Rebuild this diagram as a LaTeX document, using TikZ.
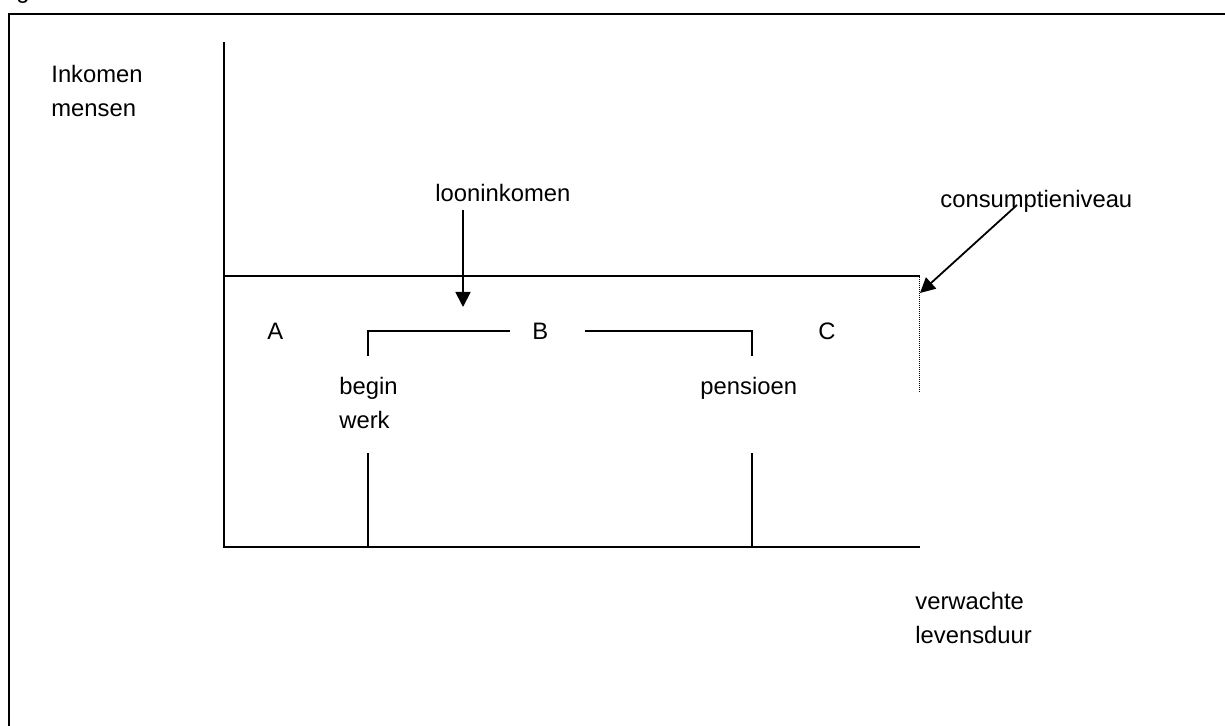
\documentclass[tikz,border=0pt]{standalone}
\usepackage{fontspec}
\setmainfont{Liberation Sans}
\usetikzlibrary{arrows.meta}
\begin{document}
\begin{tikzpicture}[x=0.5pt,y=-0.5pt,
  lbl/.style={inner sep=0pt,anchor=base west,align=left,font=\fontsize{11.9}{17}\selectfont},
  axis/.style={line width=0.75pt},
  frameline/.style={line width=1.2pt},
  arr/.style={line width=0.9pt,-{Triangle[length=7.5pt,width=7.5pt]}},
  dots/.style={line width=0.5pt,dash pattern=on 0.5pt off 0.5pt}]
\useasboundingbox (0,0) rectangle (1225,726);
% partial caption letter at the top edge
\node[lbl] (g) at (16,-1) {g};
% frame
\draw[frameline] (9,740) -- (9,14) -- (1240,14);
% axes
\coordinate (O) at (224,547);
\coordinate (Ytop) at (224,42);
\coordinate (Xend) at (920,547);
\draw[axis] (Ytop) -- (O) -- (Xend);
% consumption level
\coordinate (Cl) at (224,276);
\coordinate (Cr) at (920,276);
\draw[axis] (Cl) -- (Cr);
\coordinate (Db) at (919,393);
\draw[dots] (919,277) -- (Db);
% bracket
\coordinate (BL) at (368,331);
\coordinate (BR) at (752,331);
\draw[axis] (368,356) -- (BL) -- (510,331);
\draw[axis] (585,331) -- (BR) -- (752,356);
% lower markers
\draw[axis] (368,453) -- (368,547);
\draw[axis] (752,453) -- (752,547);
% labels (base anchor = baseline of the last line)
\node[lbl] (ink) at (51,117) {Inkomen\\mensen};
\node[lbl] (loon) at (435,202) {looninkomen};
\node[lbl] (cons) at (940,208) {consumptieniveau};
\node[lbl] (A) at (267,340) {A};
\node[lbl] (B) at (532,340) {B};
\node[lbl] (C) at (818,340) {C};
\node[lbl] (begin) at (339,429) {begin\\werk};
\node[lbl] (pens) at (700,395) {pensioen};
\node[lbl] (verw) at (915,643) {verwachte\\levensduur};
% arrows
\coordinate (loonS) at (463,210);
\coordinate (loonT) at (463,307);
\draw[arr] (loonS) -- (loonT);
\coordinate (consS) at (1017,205);
\coordinate (consT) at (920,293);
\draw[arr] (consS) -- (consT);
\end{tikzpicture}
\end{document}
